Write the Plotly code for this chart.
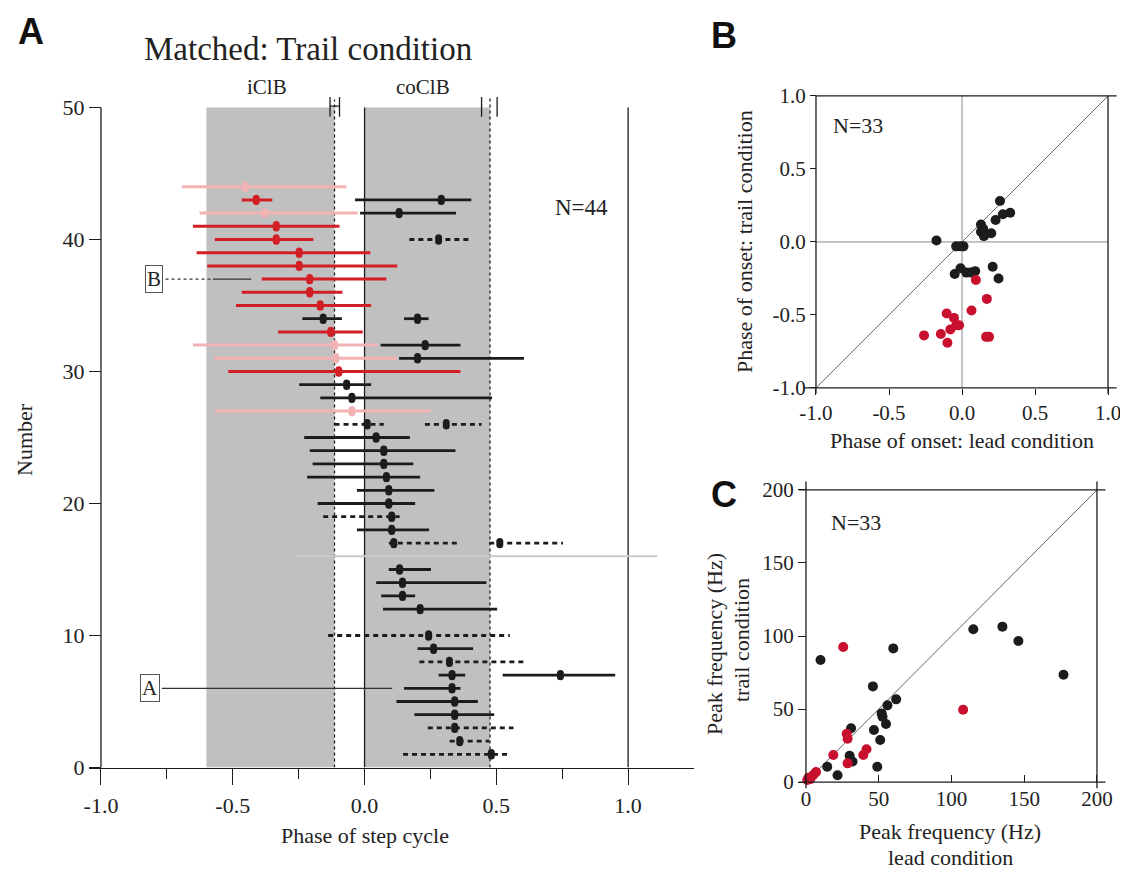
import plotly.graph_objects as go

# ---------------- Panel A data (row, low, center, high) ----------------
black_rows = [43, 42, 34, 34, 32, 31, 29, 28, 25, 24, 23, 22, 21, 20, 18, 15, 14, 13, 12, 9, 7, 7, 6, 5, 4]
black_lo = [-0.036, -0.017, -0.236, 0.150, 0.061, 0.131, -0.248, -0.168, -0.229, -0.208, -0.197, -0.218, -0.029,
            -0.178, -0.029, 0.092, 0.044, 0.063, 0.070, 0.201, 0.281, 0.524, 0.150, 0.121, 0.189]
black_c = [0.291, 0.131, -0.157, 0.201, 0.230, 0.201, -0.068, -0.048, 0.044, 0.073, 0.073, 0.083, 0.092,
           0.092, 0.103, 0.133, 0.144, 0.144, 0.211, 0.262, 0.332, 0.743, 0.332, 0.342, 0.342]
black_hi = [0.405, 0.347, -0.086, 0.243, 0.364, 0.605, 0.025, 0.484, 0.172, 0.345, 0.185, 0.211, 0.265,
            0.192, 0.245, 0.252, 0.462, 0.192, 0.503, 0.412, 0.382, 0.951, 0.364, 0.430, 0.492]

dash_rows = [40, 26, 26, 19, 17, 17, 10, 8, 3, 2, 1]
dash_lo = [0.170, -0.114, 0.229, -0.157, 0.092, 0.473, -0.138, 0.208, 0.240, 0.323, 0.146]
dash_c = [0.281, 0.010, 0.310, 0.103, 0.111, 0.513, 0.243, 0.322, 0.342, 0.361, 0.481]
dash_hi = [0.401, 0.073, 0.444, 0.133, 0.354, 0.753, 0.551, 0.605, 0.565, 0.473, 0.546]

red_rows = [43, 41, 40, 39, 38, 37, 36, 35, 33, 30]
red_lo = [-0.466, -0.651, -0.568, -0.637, -0.597, -0.390, -0.466, -0.488, -0.328, -0.517]
red_c = [-0.411, -0.335, -0.335, -0.248, -0.248, -0.208, -0.208, -0.168, -0.128, -0.098]
red_hi = [-0.350, -0.095, -0.194, 0.022, 0.124, 0.083, -0.084, 0.025, -0.007, 0.364]

pink_rows = [44, 42, 32, 31, 27]
pink_lo = [-0.693, -0.626, -0.651, -0.572, -0.568]
pink_c = [-0.452, -0.379, -0.114, -0.109, -0.048]
pink_hi = [-0.069, -0.026, 0.051, 0.124, 0.251]

grey_row = [16]
grey_lo = [-0.255]
grey_hi = [1.111]

iclb_zone = [-0.60, -0.114]
coclb_zone = [0.0, 0.476]
iclb_bar = [-0.131, -0.095]
coclb_bar = [0.444, 0.503]

a_xticks = [-1, -0.5, 0, 0.5, 1]
a_xticklabels = ["-1.0", "-0.5", "0.0", "0.5", "1.0"]
a_xminor = [-0.75, -0.25, 0.25, 0.75]
a_yticks = [0, 10, 20, 30, 40, 50]

# ---------------- Panel B data ----------------
b_black_x = [-0.175, -0.04, -0.01, 0.01, -0.05, -0.01, 0.03, 0.06, 0.09, 0.21, 0.25, 0.13, 0.145, 0.13, 0.155,
             0.15, 0.20, 0.23, 0.26, 0.28, 0.33]
b_black_y = [0.01, -0.03, -0.03, -0.03, -0.22, -0.18, -0.21, -0.21, -0.20, -0.17, -0.25, 0.12, 0.09, 0.07, 0.05,
             0.04, 0.06, 0.15, 0.28, 0.19, 0.20]
b_red_x = [0.095, 0.17, 0.065, -0.105, -0.055, -0.04, -0.02, -0.08, -0.26, -0.145, -0.10, 0.165, 0.185]
b_red_y = [-0.26, -0.39, -0.47, -0.49, -0.52, -0.57, -0.57, -0.60, -0.64, -0.63, -0.69, -0.65, -0.65]
b_ticks = [-1, -0.5, 0, 0.5, 1]
b_ticklabels = ["-1.0", "-0.5", "0.0", "0.5", "1.0"]

# ---------------- Panel C data ----------------
c_black_x = [10, 60, 115, 135, 146, 177, 46, 62, 56, 52, 52.6, 55, 46.7, 51, 31, 30, 32, 14.6, 21.7, 49]
c_black_y = [83.6, 91.5, 104.6, 106.4, 96.6, 73.5, 65.5, 56.6, 52.5, 47, 44.7, 39.7, 35.6, 28.8, 36.8, 18, 14,
             10.5, 4.6, 10.5]
c_red_x = [25.6, 108, 28, 28.6, 18.8, 39.4, 41.6, 28.6, 6.9, 5, 1.8, 0.9, 3]
c_red_y = [92.5, 49.5, 33, 29.7, 18.5, 18.5, 22.4, 12.8, 6.8, 4.8, 3, 1.4, 2]
c_ticks = [0, 50, 100, 150, 200]

# ---------------- layout helpers (page has an 8px body margin) ----------------
OFF = 8
W, H = 1120, 863
SERIF = "Liberation Serif, Times New Roman, serif"
SANS = "Liberation Sans, Arial, sans-serif"
BLACK = "#1c1c1c"
RED = "#d21f26"
PINK = "#f1b3b3"
RED_BC = "#c8102e"
TXT = "#222222"


def P(x):
    return (x - OFF) / W


def Q(y):
    return 1 - (y - OFF) / H


def segs(rows, lo, hi):
    xs, ys = [], []
    for r, a, b in zip(rows, lo, hi):
        xs += [a, b, None]
        ys += [r, r, None]
    return xs, ys


fig = go.Figure()

groups = [
    (grey_row, grey_lo, grey_hi, None, "#cccccc", "solid", 2),
    (pink_rows, pink_lo, pink_hi, pink_c, PINK, "solid", 3),
    (red_rows, red_lo, red_hi, red_c, RED, "solid", 3),
    (black_rows, black_lo, black_hi, black_c, BLACK, "solid", 2.8),
    (dash_rows, dash_lo, dash_hi, dash_c, BLACK, "5px,4px", 2.8),
]
for rows, lo, hi, c, col, dash, w in groups:
    xs, ys = segs(rows, lo, hi)
    fig.add_trace(go.Scatter(x=xs, y=ys, mode="lines", line=dict(color=col, width=w, dash=dash),
                             xaxis="x", yaxis="y", showlegend=False, hoverinfo="skip"))
    if c is not None:
        # vertically elongated dot: two overlapping circles
        fig.add_trace(go.Scatter(x=list(c) + list(c),
                                 y=[r - 0.13 for r in rows] + [r + 0.13 for r in rows],
                                 mode="markers", marker=dict(color=col, size=7, symbol="circle"),
                                 xaxis="x", yaxis="y", showlegend=False, hoverinfo="skip"))

fig.add_trace(go.Scatter(x=[iclb_bar[0], iclb_bar[0], None, iclb_bar[1], iclb_bar[1], None, iclb_bar[0], iclb_bar[1]],
                         y=[49.3, 50.8, None, 49.3, 50.8, None, 50.1, 50.1],
                         mode="lines", line=dict(color=BLACK, width=1.3), xaxis="x", yaxis="y",
                         showlegend=False, hoverinfo="skip"))
fig.add_trace(go.Scatter(x=[coclb_bar[0], coclb_bar[0], None, coclb_bar[1], coclb_bar[1]],
                         y=[49.3, 50.8, None, 49.3, 50.8],
                         mode="lines", line=dict(color=BLACK, width=1.3), xaxis="x", yaxis="y",
                         showlegend=False, hoverinfo="skip"))

fig.add_trace(go.Scatter(x=[-0.769, 0.105], y=[6, 6], mode="lines", line=dict(color="#333333", width=1.2),
                         xaxis="x", yaxis="y", showlegend=False, hoverinfo="skip"))
fig.add_trace(go.Scatter(x=[-0.755, -0.575], y=[37, 37], mode="lines",
                         line=dict(color="#333333", width=1.2, dash="dot"),
                         xaxis="x", yaxis="y", showlegend=False, hoverinfo="skip"))
fig.add_trace(go.Scatter(x=[-0.575, -0.43], y=[37, 37], mode="lines", line=dict(color="#333333", width=1.2),
                         xaxis="x", yaxis="y", showlegend=False, hoverinfo="skip"))

# Panel B
fig.add_trace(go.Scatter(x=[-1, 1], y=[-1, 1], mode="lines", line=dict(color="#666666", width=1),
                         xaxis="x2", yaxis="y2", showlegend=False, hoverinfo="skip"))
fig.add_trace(go.Scatter(x=[0, 0, None, -1, 1], y=[-1, 1, None, 0, 0], mode="lines",
                         line=dict(color="#8a8a8a", width=1),
                         xaxis="x2", yaxis="y2", showlegend=False, hoverinfo="skip"))
fig.add_trace(go.Scatter(x=b_black_x, y=b_black_y, mode="markers", marker=dict(color=BLACK, size=10),
                         xaxis="x2", yaxis="y2", showlegend=False))
fig.add_trace(go.Scatter(x=b_red_x, y=b_red_y, mode="markers", marker=dict(color=RED_BC, size=10),
                         xaxis="x2", yaxis="y2", showlegend=False))

# Panel C
fig.add_trace(go.Scatter(x=[0, 200], y=[0, 200], mode="lines", line=dict(color="#666666", width=1),
                         xaxis="x3", yaxis="y3", showlegend=False, hoverinfo="skip"))
fig.add_trace(go.Scatter(x=c_black_x, y=c_black_y, mode="markers", marker=dict(color=BLACK, size=10),
                         xaxis="x3", yaxis="y3", showlegend=False))
fig.add_trace(go.Scatter(x=c_red_x, y=c_red_y, mode="markers", marker=dict(color=RED_BC, size=10),
                         xaxis="x3", yaxis="y3", showlegend=False))

LW = 1.3
ln = dict(color=BLACK, width=LW)
shapes = [
    dict(type="rect", xref="x", yref="y", x0=iclb_zone[0], x1=iclb_zone[1], y0=0, y1=50,
         fillcolor="#c0c0c0", line=dict(width=0), layer="below"),
    dict(type="rect", xref="x", yref="y", x0=coclb_zone[0], x1=coclb_zone[1], y0=0, y1=50,
         fillcolor="#c0c0c0", line=dict(width=0), layer="below"),
    dict(type="line", xref="x", yref="y", x0=iclb_zone[1], x1=iclb_zone[1], y0=0, y1=50.6,
         line=dict(color=BLACK, width=LW, dash="dot"), layer="below"),
    dict(type="line", xref="x", yref="y", x0=coclb_zone[1], x1=coclb_zone[1], y0=0, y1=50.8,
         line=dict(color=BLACK, width=LW, dash="dot"), layer="below"),
    dict(type="line", xref="x", yref="y", x0=0, x1=0, y0=0, y1=50, line=ln, layer="below"),
    dict(type="line", xref="x", yref="y", x0=1, x1=1, y0=0, y1=50, line=ln, layer="below"),
    dict(type="line", xref="x", yref="y", x0=-1, x1=-1, y0=0, y1=50, line=ln),
    # panel B frame
    dict(type="line", xref="x2", yref="y2", x0=-1.08, x1=1.06, y0=-1, y1=-1, line=ln),
    dict(type="line", xref="x2", yref="y2", x0=-1, x1=1.06, y0=1, y1=1, line=ln),
    dict(type="line", xref="x2", yref="y2", x0=-1, x1=-1, y0=-1.04, y1=1, line=ln),
    dict(type="line", xref="x2", yref="y2", x0=1, x1=1, y0=-1.04, y1=1, line=ln),
    # panel C frame
    dict(type="line", xref="x3", yref="y3", x0=-5, x1=206, y0=0, y1=0, line=ln),
    dict(type="line", xref="x3", yref="y3", x0=-5, x1=206, y0=200, y1=200, line=ln),
    dict(type="line", xref="x3", yref="y3", x0=0, x1=0, y0=-4.5, y1=206, line=ln),
    dict(type="line", xref="x3", yref="y3", x0=200, x1=200, y0=-4.5, y1=206, line=ln),
]

base = dict(showgrid=False, zeroline=False, linecolor=BLACK, linewidth=LW, tickcolor=BLACK, tickwidth=LW,
            automargin=False)
tfa = dict(family=SERIF, size=22, color=TXT)
tfb = dict(family=SERIF, size=21, color=TXT)

fig.update_layout(
    template="none",
    width=W, height=H, margin=dict(l=0, r=0, t=0, b=0, pad=0, autoexpand=False),
    paper_bgcolor="white", plot_bgcolor="rgba(0,0,0,0)",
    showlegend=False, shapes=shapes,
    # Panel A
    xaxis=dict(domain=[P(89), P(694)], range=[-1.0455, 1.25], anchor="y",
               tickvals=a_xticks, ticktext=a_xticklabels, ticks="outside", ticklen=16, ticklabelstandoff=2,
               showline=True, tickfont=tfa,
               minor=dict(tickvals=a_xminor, ticks="outside", ticklen=10, tickcolor=BLACK, tickwidth=LW),
               **base),
    yaxis=dict(domain=[Q(767.5), Q(767.5 - 52 * 13.2)], range=[0, 52], anchor="free", position=P(101),
               tickvals=a_yticks, ticks="outside", ticklen=12, showline=False, tickfont=tfa, **base),
    # Panel B
    xaxis2=dict(domain=[P(804.3), P(1116.8)], range=[-1.08, 1.06], anchor="free", position=Q(388),
                tickvals=b_ticks, ticktext=b_ticklabels, ticks="outside", ticklen=6, showline=False,
                tickfont=tfb, **base),
    yaxis2=dict(domain=[Q(393.8), Q(94.5)], range=[-1.04, 1.01], anchor="free", position=P(816),
                tickvals=b_ticks, ticktext=b_ticklabels, ticks="outside", ticklen=6, showline=False,
                tickfont=tfb, **base),
    # Panel C
    xaxis3=dict(domain=[P(798.7), P(1105.7)], range=[-5, 206], anchor="free", position=Q(782),
                tickvals=c_ticks, ticks="inside", ticklen=7, ticklabelstandoff=2, showline=False,
                tickfont=tfb, **base),
    xaxis4=dict(overlaying="x3", range=[-5, 206], anchor="free", position=Q(490), side="top",
                tickvals=c_ticks[1:-1], ticks="outside", ticklen=8, showticklabels=False, showline=False,
                tickfont=tfb, **base),
    yaxis3=dict(domain=[Q(788.6), Q(481.2)], range=[-4.5, 206], anchor="free", position=P(806),
                tickvals=c_ticks, ticks="outside", ticklen=8, showline=False, tickfont=tfb, **base),
)

tf = dict(family=SERIF, size=22, color=TXT)
annos = [
    dict(text="<b>A</b>", x=P(31), y=Q(32), font=dict(family=SANS, size=36, color="#111")),
    dict(text="<b>B</b>", x=P(724), y=Q(36), font=dict(family=SANS, size=36, color="#111")),
    dict(text="<b>C</b>", x=P(724), y=Q(494), font=dict(family=SANS, size=36, color="#111")),
    dict(text="Matched: Trail condition", x=P(308), y=Q(49), font=dict(family=SERIF, size=33, color=TXT)),
    dict(text="iClB", x=P(267), y=Q(87), font=dict(family=SERIF, size=21, color=TXT)),
    dict(text="coClB", x=P(423), y=Q(87), font=dict(family=SERIF, size=21, color=TXT)),
    dict(text="N=44", x=P(581), y=Q(207), font=dict(family=SERIF, size=23, color=TXT)),
    dict(text="Phase of step cycle", x=P(365), y=Q(835), font=tf),
    dict(text="Number", x=P(24), y=Q(440), textangle=-90, font=tf),
    dict(text="N=33", x=P(858), y=Q(125), font=tf),
    dict(text="Phase of onset: lead condition", x=P(962), y=Q(440), font=tf),
    dict(text="Phase of onset: trail condition", x=P(744), y=Q(242), textangle=-90, font=tf),
    dict(text="N=33", x=P(856), y=Q(522), font=tf),
    dict(text="Peak frequency (Hz)", x=P(950), y=Q(831), font=tf),
    dict(text="lead condition", x=P(950), y=Q(857), font=tf),
    dict(text="Peak frequency (Hz)", x=P(714), y=Q(644), textangle=-90, font=tf),
    dict(text="trail condition", x=P(741), y=Q(640), textangle=-90, font=tf),
]
for a in annos:
    a.update(xref="paper", yref="paper", showarrow=False, xanchor="center", yanchor="middle")
annos.append(dict(text="A", xref="x", yref="y", x=-0.815, y=6, showarrow=False, bordercolor="#555",
                  borderwidth=1, borderpad=1, bgcolor="white", font=dict(family=SERIF, size=21, color=TXT)))
annos.append(dict(text="B", xref="x", yref="y", x=-0.80, y=37, showarrow=False, bordercolor="#555",
                  borderwidth=1, borderpad=1, bgcolor="white", font=dict(family=SERIF, size=21, color=TXT)))
fig.update_layout(annotations=annos)

fig.write_html("out.html")
